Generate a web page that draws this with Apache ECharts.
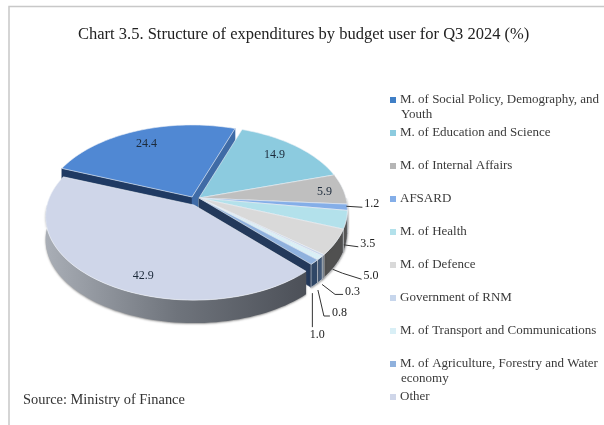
<!DOCTYPE html>
<html>
<head>
<meta charset="utf-8">
<style>
  html, body { margin: 0; padding: 0; background: #fff; }
  #container { width: 604px; height: 425px; }
</style>
<script src="https://cdn.jsdelivr.net/npm/echarts@6/dist/echarts.min.js"></script>
</head>
<body>
<div id="container"></div>
<script>
"use strict";

// budget users, clockwise from the left edge of the big blue slice
const budgetUsers = [
  "M. of Social Policy, Demography, and\nYouth",
  "M. of Education and Science",
  "M. of Internal Affairs",
  "AFSARD",
  "M. of Health",
  "M. of Defence",
  "Government of RNM",
  "M. of Transport and Communications",
  "M. of Agriculture, Forestry and Water\neconomy",
  "Other",
];
const shares = [24.4, 14.9, 5.9, 1.2, 3.5, 5.0, 0.3, 0.8, 1.0, 42.9];
const shareLabels = ["24.4", "14.9", "5.9", "1.2", "3.5", "5.0", "0.3", "0.8", "1.0", "42.9"];

const topColors = ["#5088d3", "#8ccbdf", "#bfbfbf", "#84aee8", "#b3e1eb", "#d9d9d9", "#c7d6ec", "#d9eff6", "#8fb1dd", "#cfd6e9"];
const legendColors = ["#3f7fc6", "#8ccbdf", "#b5b5b5", "#84aee8", "#b3e1eb", "#d9d9d9", "#c7d6ec", "#d9eff6", "#8fb1dd", "#cfd6e9"];
const rimColors = ["#3f6aa5", "#4a7f90", "#6f6f6f", "#4c4c4c", "#565656", "#505050", "#4a5a70", "#40597a", "#2f4767", "#6b7079"];
const endWallColors = ["#3f6ba6", "#3c6b68", "#8a8a8a", "#6c8fc0", "#8fa9b0", "#a0a0a0", "#8fa6c0", "#7f9fb5", "#23395b", "#6b7079"];
const explode = [[-7, -1], [0, 0], [0, 0], [0, 0], [0, 0], [0, 0], [0, 0], [0, 0], [0, 0], [-5, 7]];

// where the percent text sits: inside labels move from the slice middle, outside ones follow a leader
const labelNudge = [[-5, -4], [4, -5], [3, 2], null, null, null, null, null, null, [4, 25]];
const labelRadius = [0.72, 0.72, 0.85, 1, 1, 1, 1, 1, 1, 0.62];
const leaderPaths = [
  null, null, null,
  [[-1, -1], [15, 0]],
  [[-3, 25], [12, 27]],
  [[-3, 27], [7, 31], [26, 37]],
  [[-1, 29], [12, 39], [20, 39]],
  [[-2, 32], [4, 58], [10, 58]],
  [[-2, 31], [-2, 65]],
  null,
];

const startAngle = -68.5;
const cx = 199, cy = 198;
const rx = 147, ry = 82, perspective = 0.138, depth = 23;

const serif = "'Liberation Serif', serif";
const legendTop = 93, legendStep = 33;

function project(theta, r, off, drop) {
  const a = theta * Math.PI / 180;
  const u = Math.sin(a) * r, v = -Math.cos(a) * r;
  const w = 1 / (1 - perspective * v);
  return [cx + off[0] + rx * u * w, cy + off[1] + ry * v * w + drop];
}

function arcPoints(from, to, off, drop) {
  const pts = [];
  const steps = Math.max(2, Math.ceil((to - from) / 2));
  for (let i = 0; i <= steps; i++) {
    pts.push(project(from + (to - from) * i / steps, 1, off, drop));
  }
  return pts;
}

function wall(points, fill, stroke) {
  return { type: 'polygon', shape: { points: points }, style: { fill: fill, stroke: stroke || fill, lineWidth: 0.5 } };
}

function renderSlice(params, api) {
  const i = params.seriesIndex;
  const from = api.value(0);
  const to = api.value(1);
  const off = explode[i];
  const children = [];
  const apex = project(0, 0, off, 0);
  const apexLow = project(0, 0, off, depth);

  // cut faces, only the ones turned to the viewer
  [[from, -1, "#1f3a63"], [to, 1, endWallColors[i]]].forEach(function (cut) {
    if (Math.sin(cut[0] * Math.PI / 180) * cut[1] > 0) {
      children.push(wall([apex, project(cut[0], 1, off, 0), project(cut[0], 1, off, depth), apexLow], cut[2]));
    }
  });

  // outer wall, front half only
  const lo = Math.max(from, 90), hi = Math.min(to, 270);
  if (lo < hi) {
    const last = i === shares.length - 1;
    const fill = last
      ? new echarts.graphic.LinearGradient(0, 0, 1, 0, [
          { offset: 0, color: "#a9aeb6" },
          { offset: 0.5, color: "#6f747c" },
          { offset: 1, color: "#4c5058" },
        ])
      : rimColors[i];
    children.push({
      type: 'polygon',
      shape: { points: arcPoints(lo, hi, off, 0).concat(arcPoints(lo, hi, off, depth).reverse()) },
      style: { fill: fill, stroke: "#e4e8ee", lineWidth: last ? 0 : 0.5, shadowColor: "rgba(90,90,90,0.6)", shadowBlur: 2, shadowOffsetY: 1 },
    });
  }

  // top face
  children.push({
    type: 'polygon',
    shape: { points: [apex].concat(arcPoints(from, to, off, 0)) },
    style: { fill: topColors[i], stroke: "#eef2f7", lineWidth: 0.6 },
  });

  // percent label
  const mid = (from + to) / 2;
  if (leaderPaths[i]) {
    const start = project(mid, 1, off, 0);
    const pts = leaderPaths[i].map(function (p) { return [start[0] + p[0], start[1] + p[1]]; });
    children.push({ type: 'polyline', shape: { points: pts }, style: { fill: null, stroke: "#333", lineWidth: 1 } });
    const end = pts[pts.length - 1];
    const down = i === shares.length - 2;
    children.push({
      type: 'text',
      style: {
        x: end[0] + (down ? 5 : 2), y: end[1] + (down ? 8 : -3),
        text: shareLabels[i], fill: "#222", font: "12px " + serif,
        align: down ? 'center' : 'left', verticalAlign: 'middle',
      },
    });
  } else {
    const p = project(mid, labelRadius[i], off, 0);
    children.push({
      type: 'text',
      style: {
        x: p[0] + labelNudge[i][0], y: p[1] + labelNudge[i][1],
        text: shareLabels[i], fill: "#1c2a3a", font: "12px " + serif,
        align: 'center', verticalAlign: 'middle',
      },
    });
  }
  return { type: 'group', children: children };
}

let running = startAngle;
const series = budgetUsers.map(function (name, i) {
  const from = running;
  running += shares[i] * 3.6;
  return {
    type: 'custom',
    name: name,
    coordinateSystem: 'none',
    silent: true,
    itemStyle: { color: legendColors[i] },
    data: [[from, running, shares[i]]],
    renderItem: renderSlice,
  };
});

// second lines of the two long legend names
const wrapped = [];
budgetUsers.forEach(function (name, i) {
  const parts = name.split("\n");
  if (parts[1]) {
    wrapped.push({
      type: 'text',
      left: 401,
      top: legendTop + i * legendStep + 15,
      style: { text: parts[1], fill: "#3a3a3a", font: "13px " + serif },
    });
  }
});

const myChart = echarts.init(document.getElementById('container'));
myChart.setOption({
  animation: false,
  backgroundColor: "#fff",
  title: {
    text: "Chart 3.5. Structure of expenditures by budget user for Q3 2024 (%)",
    left: 78,
    top: 26,
    padding: 0,
    textStyle: { fontFamily: serif, fontSize: 16.5, fontWeight: 'normal', color: "#222" },
  },
  legend: {
    orient: 'vertical',
    left: 390,
    top: legendTop,
    padding: 0,
    itemWidth: 6,
    itemHeight: 6,
    itemGap: legendStep - 14,
    icon: 'rect',
    selectedMode: false,
    data: budgetUsers,
    formatter: function (name) { return name.split("\n")[0]; },
    textStyle: { fontFamily: serif, fontSize: 13, lineHeight: 14, color: "#3a3a3a", padding: [0, 0, 0, -1] },
  },
  graphic: [
    {
      type: 'polyline',
      silent: true,
      shape: { points: [[604, 6.5], [9, 6.5], [9, 425]] },
      style: { fill: null, stroke: "#c8c8c8", lineWidth: 1.5 },
    },
    {
      type: 'text',
      left: 23,
      top: 393,
      style: { text: "Source: Ministry of Finance", fill: "#333", font: "14.4px " + serif },
    },
  ].concat(wrapped),
  series: series,
});
</script>
</body>
</html>
